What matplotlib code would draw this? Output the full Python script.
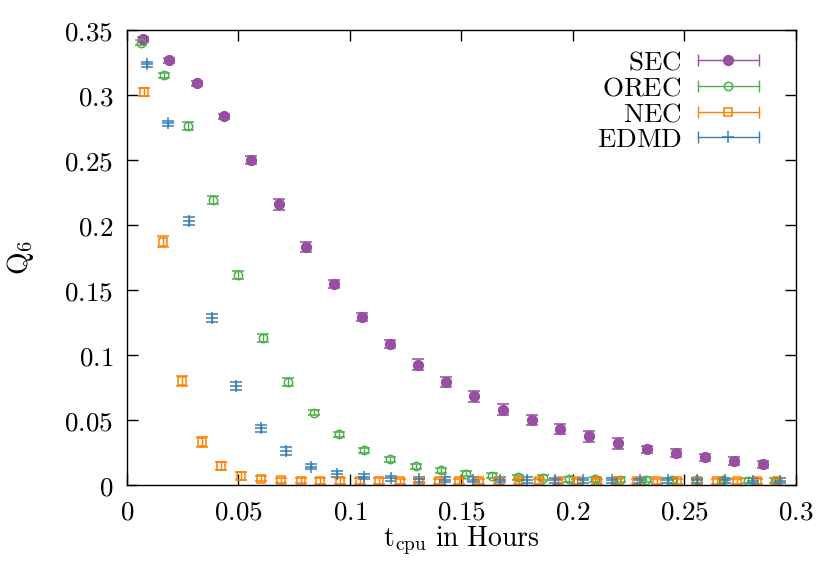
import matplotlib
matplotlib.use("Agg")
from matplotlib import pyplot as plt
from matplotlib.lines import Line2D
from matplotlib.legend_handler import HandlerLine2D, HandlerTuple

plt.rcParams['mathtext.fontset'] = 'cm'
plt.rcParams['font.family'] = 'serif'
plt.rcParams['font.serif'] = ['DejaVu Serif']

# data
sec_t = [0.0070, 0.0190, 0.0312, 0.0434, 0.0557, 0.0680, 0.0803, 0.0927, 0.1054, 0.1179,
         0.1305, 0.1432, 0.1557, 0.1686, 0.1815, 0.1943, 0.2072, 0.2202, 0.2330, 0.2462,
         0.2592, 0.2722, 0.2850]
sec_q = [0.3428, 0.3267, 0.3090, 0.2836, 0.2502, 0.2159, 0.1833, 0.1546, 0.1290, 0.1087,
         0.0926, 0.0792, 0.0682, 0.0580, 0.0500, 0.0431, 0.0374, 0.0321, 0.0274, 0.0246,
         0.0213, 0.0185, 0.0159]
sec_err = [0.002, 0.002, 0.002, 0.002, 0.003, 0.004, 0.004, 0.003, 0.003, 0.003,
           0.004, 0.004, 0.004, 0.004, 0.004, 0.004, 0.004, 0.004, 0.003, 0.003,
           0.003, 0.003, 0.003]

orec_t = [0.0061, 0.0167, 0.0275, 0.0387, 0.0498, 0.0608, 0.0723, 0.0837, 0.0949, 0.1064,
          0.1178, 0.1294, 0.1408, 0.1522, 0.1637, 0.1755, 0.1867, 0.1980, 0.2099, 0.2211,
          0.2327, 0.2442, 0.2558, 0.2674, 0.2786, 0.2906]
orec_q = [0.3403, 0.3151, 0.2762, 0.2192, 0.1618, 0.1133, 0.0792, 0.0556, 0.0392, 0.0269,
          0.0198, 0.0146, 0.0113, 0.0087, 0.0072, 0.0059, 0.0057, 0.0046, 0.0044, 0.0042,
          0.0040, 0.0038, 0.0037, 0.0036, 0.0035, 0.0035]
orec_err = [0.002, 0.002, 0.003, 0.003, 0.003, 0.003, 0.003, 0.002, 0.002, 0.002,
            0.002, 0.002, 0.002, 0.002, 0.002, 0.002, 0.002, 0.002, 0.002, 0.002,
            0.002, 0.002, 0.002, 0.002, 0.002, 0.002]

nec_t = [0.0078, 0.0160, 0.0247, 0.0335, 0.0423, 0.0511, 0.0601, 0.0690, 0.0779, 0.0867,
         0.0957, 0.1045, 0.1132, 0.1224, 0.1311, 0.1399, 0.1490, 0.1578, 0.1670, 0.1758,
         0.1848, 0.1934, 0.2019, 0.2106, 0.2196, 0.2286, 0.2378, 0.2468, 0.2555, 0.2644,
         0.2734, 0.2824, 0.2913]
nec_q = [0.3026, 0.1872, 0.0800, 0.0333, 0.0146, 0.0069, 0.0049, 0.0038, 0.0033, 0.0032,
         0.0032, 0.0031, 0.0031, 0.0030, 0.0030, 0.0030, 0.0030, 0.0029, 0.0029, 0.0029,
         0.0029, 0.0029, 0.0029, 0.0028, 0.0028, 0.0028, 0.0028, 0.0028, 0.0028, 0.0028,
         0.0028, 0.0028, 0.0028]
nec_err = [0.003, 0.004, 0.004, 0.004, 0.003, 0.003, 0.002, 0.002, 0.002, 0.002,
           0.002, 0.002, 0.002, 0.002, 0.002, 0.002, 0.002, 0.002, 0.002, 0.002,
           0.002, 0.002, 0.002, 0.002, 0.002, 0.002, 0.002, 0.002, 0.002, 0.002,
           0.002, 0.002, 0.002]

edmd_t = [0.0088, 0.0182, 0.0279, 0.0383, 0.0489, 0.0599, 0.0712, 0.0825, 0.0943, 0.1064,
          0.1182, 0.1310, 0.1426, 0.1553, 0.1673, 0.1795, 0.1920, 0.2046, 0.2173, 0.2300,
          0.2427, 0.2555, 0.2682, 0.2809, 0.2928]
edmd_q = [0.3236, 0.2782, 0.2031, 0.1287, 0.0762, 0.0436, 0.0262, 0.0141, 0.0085, 0.0064,
          0.0052, 0.0046, 0.0043, 0.0041, 0.0040, 0.0039, 0.0038, 0.0038, 0.0037, 0.0037,
          0.0036, 0.0036, 0.0036, 0.0035, 0.0035]
edmd_err = [0.002, 0.002, 0.003, 0.003, 0.003, 0.003, 0.003, 0.002, 0.002, 0.002,
            0.002, 0.002, 0.002, 0.002, 0.002, 0.002, 0.002, 0.002, 0.002, 0.002,
            0.002, 0.002, 0.002, 0.002, 0.002]

xticks = [0, 0.05, 0.1, 0.15, 0.2, 0.25, 0.3]
xtick_labels = ['0', '0.05', '0.1', '0.15', '0.2', '0.25', '0.3']
yticks = [0, 0.05, 0.1, 0.15, 0.2, 0.25, 0.3, 0.35]
ytick_labels = ['0', '0.05', '0.1', '0.15', '0.2', '0.25', '0.3', '0.35']

purple = '#984ea3'
green = '#4daf4a'
orange = '#ff7f00'
blue = '#377eb8'

fig = plt.figure(figsize=(8.3, 5.88), dpi=100)
ax = fig.add_axes([0.153, 0.175, 0.806, 0.774])

series = [
    ("SEC", sec_t, sec_q, sec_err, purple, 'o', purple, 7),
    ("OREC", orec_t, orec_q, orec_err, green, 'o', 'none', 6),
    ("NEC", nec_t, nec_q, nec_err, orange, 's', 'none', 6),
    ("EDMD", edmd_t, edmd_q, edmd_err, blue, '+', blue, 8),
]

handles = []
labels = []
hmap = {tuple: HandlerTuple(ndivide=1, pad=0)}
for name, t, q, err, col, mk, fc, ms in series:
    ax.errorbar(t, q, yerr=err, fmt=mk, color=col, mfc=fc, mec=col, ms=ms,
                ecolor=col, elinewidth=1, capsize=4.5, capthick=1, mew=1.1)
    # gnuplot style legend sample: horizontal bar with end caps and marker in the middle
    bar = Line2D([0, 1], [0, 0], color=col, lw=1, marker='|', ms=8, mew=1)
    dot = Line2D([0], [0], linestyle='none', marker=mk, color=col, mfc=fc, mec=col,
                 ms=ms, mew=1.1)
    hmap[bar] = HandlerLine2D(numpoints=2)
    hmap[dot] = HandlerLine2D(numpoints=1)
    handles.append((bar, dot))
    labels.append('$\\mathrm{%s}$' % name)

leg = ax.legend(handles, labels, handler_map=hmap,
                loc='upper right', frameon=False, markerfirst=False, fontsize=19.5,
                handlelength=2.85, handletextpad=0.3, labelspacing=-0.05,
                borderaxespad=0.3, bbox_to_anchor=(0.985, 1.0))

ax.set_xlim(0, 0.3)
ax.set_ylim(0, 0.35)
ax.set_xticks(xticks)
ax.set_xticklabels(['$%s$' % s for s in xtick_labels])
ax.set_yticks(yticks)
ax.set_yticklabels(['$%s$' % s for s in ytick_labels])
ax.tick_params(direction='in', length=8, width=1, top=True, right=True,
               labelsize=19.5, pad=10)
for sp in ax.spines.values():
    sp.set_linewidth(1)

ax.set_xlabel(r'$\mathrm{t}_{\mathrm{cpu}}\ \mathrm{in\ Hours}$', fontsize=20, labelpad=-1)
ax.set_ylabel(r'$\mathrm{Q}_6$', fontsize=21, labelpad=20)

fig.savefig('out.png', dpi=100)
